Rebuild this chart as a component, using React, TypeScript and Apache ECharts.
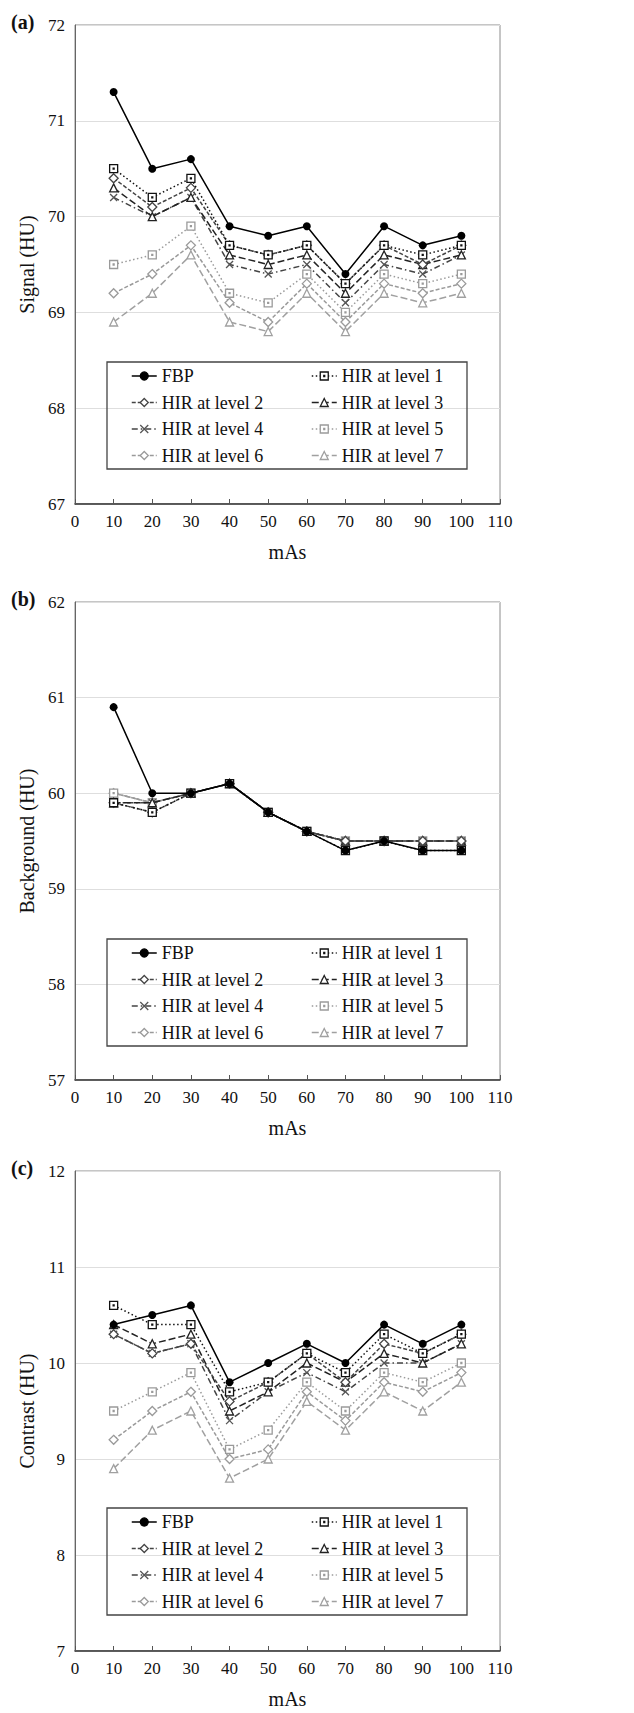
import React, { useEffect, useRef } from "react";
import * as echarts from "echarts";

// Tube current settings (mAs) shared by the three panels
const mAs = [10, 20, 30, 40, 50, 60, 70, 80, 90, 100];
const xTicks = { min: 0, max: 110, interval: 10 };

const seriesNames = [
  "FBP",
  "HIR at level 1",
  "HIR at level 2",
  "HIR at level 3",
  "HIR at level 4",
  "HIR at level 5",
  "HIR at level 6",
  "HIR at level 7",
];

// Signal (HU), one row per reconstruction
const signalHU = [
  [71.3, 70.5, 70.6, 69.9, 69.8, 69.9, 69.4, 69.9, 69.7, 69.8],
  [70.5, 70.2, 70.4, 69.7, 69.6, 69.7, 69.3, 69.7, 69.6, 69.7],
  [70.4, 70.1, 70.3, 69.7, 69.6, 69.7, 69.3, 69.7, 69.5, 69.7],
  [70.3, 70.0, 70.2, 69.6, 69.5, 69.6, 69.2, 69.6, 69.5, 69.6],
  [70.2, 70.0, 70.2, 69.5, 69.4, 69.5, 69.1, 69.5, 69.4, 69.6],
  [69.5, 69.6, 69.9, 69.2, 69.1, 69.4, 69.0, 69.4, 69.3, 69.4],
  [69.2, 69.4, 69.7, 69.1, 68.9, 69.3, 68.9, 69.3, 69.2, 69.3],
  [68.9, 69.2, 69.6, 68.9, 68.8, 69.2, 68.8, 69.2, 69.1, 69.2],
];

// Background (HU)
const backgroundHU = [
  [60.9, 60.0, 60.0, 60.1, 59.8, 59.6, 59.4, 59.5, 59.4, 59.4],
  [59.9, 59.8, 60.0, 60.1, 59.8, 59.6, 59.4, 59.5, 59.4, 59.4],
  [59.9, 59.8, 60.0, 60.1, 59.8, 59.6, 59.5, 59.5, 59.5, 59.5],
  [59.9, 59.9, 60.0, 60.1, 59.8, 59.6, 59.5, 59.5, 59.5, 59.5],
  [59.9, 59.9, 60.0, 60.1, 59.8, 59.6, 59.5, 59.5, 59.5, 59.5],
  [60.0, 59.9, 60.0, 60.1, 59.8, 59.6, 59.5, 59.5, 59.5, 59.5],
  [60.0, 59.9, 60.0, 60.1, 59.8, 59.6, 59.5, 59.5, 59.5, 59.5],
  [60.0, 59.9, 60.0, 60.1, 59.8, 59.6, 59.5, 59.5, 59.5, 59.5],
];

// Contrast (HU)
const contrastHU = [
  [10.4, 10.5, 10.6, 9.8, 10.0, 10.2, 10.0, 10.4, 10.2, 10.4],
  [10.6, 10.4, 10.4, 9.7, 9.8, 10.1, 9.9, 10.3, 10.1, 10.3],
  [10.3, 10.1, 10.2, 9.6, 9.8, 10.1, 9.8, 10.2, 10.1, 10.3],
  [10.4, 10.2, 10.3, 9.5, 9.7, 10.0, 9.8, 10.1, 10.0, 10.2],
  [10.3, 10.1, 10.2, 9.4, 9.7, 9.9, 9.7, 10.0, 10.0, 10.2],
  [9.5, 9.7, 9.9, 9.1, 9.3, 9.8, 9.5, 9.9, 9.8, 10.0],
  [9.2, 9.5, 9.7, 9.0, 9.1, 9.7, 9.4, 9.8, 9.7, 9.9],
  [8.9, 9.3, 9.5, 8.8, 9.0, 9.6, 9.3, 9.7, 9.5, 9.8],
];

const FONT = "Liberation Serif, serif";

// Open square with a small centre dot, and an "x" cross
const squareDot = "path://M0,0H10V10H0Z M4.4,4.4H5.6V5.6H4.4Z";
const cross = "path://M0,0L10,10M10,0L0,10";

const seriesStyles = [
  { symbol: "circle", size: 8, fill: "#000", stroke: "#000", line: "solid" as any, lineColor: "#000" },
  { symbol: squareDot, size: 8, fill: "#fff", stroke: "#111", line: [1.5, 2.5], lineColor: "#111" },
  { symbol: "diamond", size: 9, fill: "#fff", stroke: "#444", line: [4, 2], lineColor: "#444" },
  { symbol: "triangle", size: 8, fill: "#fff", stroke: "#222", line: [7, 3], lineColor: "#222" },
  { symbol: cross, size: 7, fill: "#fff", stroke: "#555", line: [6, 3, 1.5, 3], lineColor: "#444" },
  { symbol: squareDot, size: 8, fill: "#fff", stroke: "#9a9a9a", line: [1.5, 2.5], lineColor: "#9a9a9a" },
  { symbol: "diamond", size: 9, fill: "#fff", stroke: "#9a9a9a", line: [4, 2], lineColor: "#9a9a9a" },
  { symbol: "triangle", size: 8, fill: "#fff", stroke: "#a0a0a0", line: [7, 3], lineColor: "#a0a0a0" },
];

const panels = [
  { tag: "(a)", yName: "Signal (HU)", yMin: 67, yMax: 72, top: 25, height: 479, values: signalHU },
  { tag: "(b)", yName: "Background (HU)", yMin: 57, yMax: 62, top: 602, height: 478, values: backgroundHU },
  { tag: "(c)", yName: "Contrast (HU)", yMin: 7, yMax: 12, top: 1171, height: 480, values: contrastHU },
];

const GRID_LEFT = 75;
const GRID_WIDTH = 425;

export default function App() {
  const ref = useRef<HTMLDivElement>(null);

  useEffect(() => {
    if (!ref.current) return;
    const chart = echarts.init(ref.current, null, { renderer: "svg" });

    const grid = panels.map((p) => ({
      left: GRID_LEFT,
      top: p.top,
      width: GRID_WIDTH,
      height: p.height,
      show: true,
      borderColor: "#8c8c8c",
      borderWidth: 1,
      backgroundColor: "#fff",
    }));

    const xAxis = panels.map((_, i) => ({
      type: "value",
      gridIndex: i,
      min: xTicks.min,
      max: xTicks.max,
      interval: xTicks.interval,
      name: "mAs",
      nameLocation: "middle",
      nameGap: 38,
      nameTextStyle: { fontFamily: FONT, fontSize: 20, color: "#111" },
      axisLine: { show: true, lineStyle: { color: "#333", width: 1.5 } },
      axisTick: { show: true, inside: true, length: 5, lineStyle: { color: "#555" } },
      axisLabel: { fontFamily: FONT, fontSize: 17, color: "#111", margin: 9 },
      splitLine: { show: false },
    }));

    const yAxis = panels.map((p, i) => ({
      type: "value",
      gridIndex: i,
      min: p.yMin,
      max: p.yMax,
      interval: 1,
      name: p.yName,
      nameLocation: "middle",
      nameGap: 35,
      nameTextStyle: { fontFamily: FONT, fontSize: 20, color: "#111" },
      axisLine: { show: true, lineStyle: { color: "#666", width: 1 } },
      axisTick: { show: false },
      axisLabel: { fontFamily: FONT, fontSize: 17, color: "#111", margin: 10 },
      splitLine: { show: true, lineStyle: { color: "#dedede", width: 1 } },
    }));

    const series: any[] = [];
    panels.forEach((p, pi) => {
      // draw lighter series first so the darker ones sit on top
      for (let i = seriesNames.length - 1; i >= 0; i--) {
        const s = seriesStyles[i];
        series.push({
          type: "line",
          name: seriesNames[i],
          xAxisIndex: pi,
          yAxisIndex: pi,
          data: mAs.map((x, j) => [x, p.values[i][j]]),
          symbol: s.symbol,
          symbolSize: s.size,
          showAllSymbol: true,
          lineStyle: { color: s.lineColor, width: 1.5, type: s.line },
          itemStyle: {
            color: s.fill,
            borderColor: s.stroke,
            borderWidth: i === 0 ? 0 : 1.3,
          },
          z: 10 - i,
          emphasis: { disabled: true },
        });
      }
    });

    const leftNames = [seriesNames[0], seriesNames[2], seriesNames[4], seriesNames[6]];
    const rightNames = [seriesNames[1], seriesNames[3], seriesNames[5], seriesNames[7]];
    const legendBase = {
      orient: "vertical",
      itemWidth: 25,
      itemHeight: 10,
      itemGap: 6.5,
      padding: 0,
      selectedMode: false,
      textStyle: { fontFamily: FONT, fontSize: 18, color: "#111", lineHeight: 20 },
      itemStyle: { borderWidth: 1.3 },
      lineStyle: { width: 1.5 },
    };
    const legend = panels.flatMap((p) => [
      { ...legendBase, left: 131, top: p.top + 341, data: leftNames },
      { ...legendBase, left: 311, top: p.top + 341, data: rightNames },
    ]);

    const title = panels.map((p) => ({
      text: p.tag,
      left: 11,
      top: p.top - 13,
      padding: 0,
      textStyle: { fontFamily: FONT, fontSize: 20, fontWeight: "bold", color: "#111" },
    }));

    const graphic = panels.map((p) => ({
      type: "rect",
      shape: { x: 107, y: p.top + 337, width: 360, height: 107 },
      style: { fill: "none", stroke: "#444", lineWidth: 1.3 },
      z: 20,
    }));

    chart.setOption({
      animation: false,
      backgroundColor: "#fff",
      title,
      grid,
      xAxis,
      yAxis,
      legend,
      graphic,
      series,
    });

    return () => chart.dispose();
  }, []);

  return (
    <div
      ref={ref}
      style={{ position: "absolute", left: 0, top: 0, width: 634, height: 1713 }}
    />
  );
}
